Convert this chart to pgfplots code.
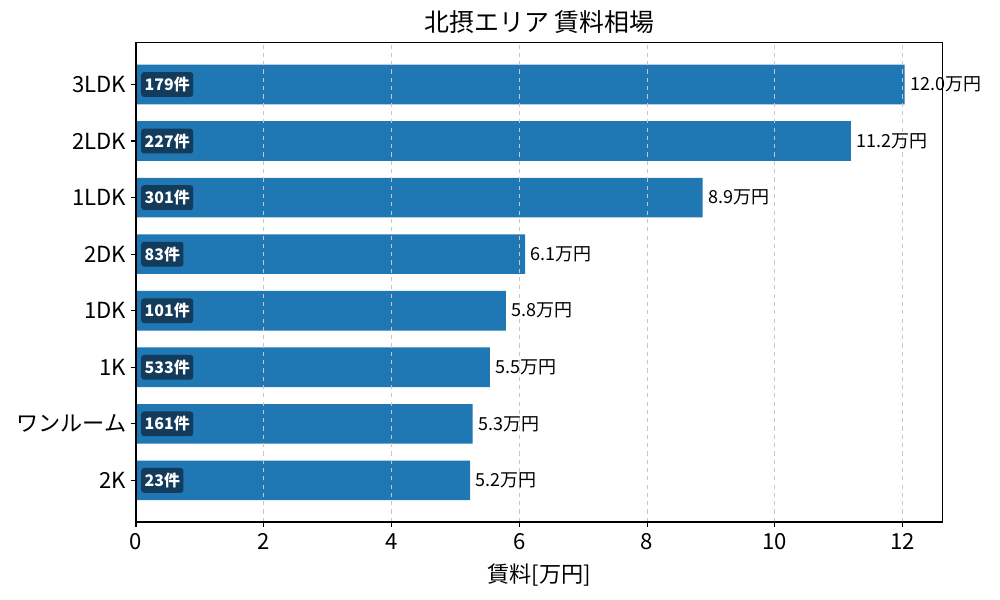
\documentclass[border=0pt]{standalone}
\usepackage{fontspec}
\setmainfont{Noto Sans CJK JP}
\usepackage{pgfplots}
\usepackage{pgfplotstable}
\pgfplotsset{compat=1.18}

\definecolor{barblue}{HTML}{1F77B4}
\definecolor{tagnavy}{HTML}{133B5B}

% y position, rent (10k yen), label, listings
\pgfplotstableread{
y val lab cnt
0 5.23 5.2 23
1 5.27 5.3 161
2 5.54 5.5 533
3 5.79 5.8 101
4 6.09 6.1 83
5 8.87 8.9 301
6 11.19 11.2 227
7 12.03 12.0 179
}\rent

\begin{document}
\begin{tikzpicture}
\useasboundingbox (-97.9bp,-56.2bp) rectangle (622.1bp,375.8bp);
\begin{axis}[
  scale only axis, width=581bp, height=344.9bp,
  xmin=0, xmax=12.63, ymin=-0.735, ymax=7.735,
  xtick={0,2,...,12}, ytick={0,...,7},
  yticklabels={2K,ワンルーム,1K,1DK,2DK,1LDK,2LDK,3LDK},
  tick align=outside, xtick pos=bottom, ytick pos=left,
  major tick length=3.5bp,
  tick style={black, line width=0.8bp},
  axis line style={line width=0.8bp},
  ticklabel style={font=\fontsize{16}{18}\selectfont},
  xticklabel style={yshift=-1.5bp},
  /pgf/number format/assume math mode=true,
  xmajorgrids, grid style={dashed, black!22, line width=0.8bp},
  axis on top,
  title={北摂エリア 賃料相場},
  title style={font=\fontsize{18}{20}\selectfont, yshift=-3bp},
  xlabel={賃料[万円]},
  xlabel style={font=\fontsize{16}{18}\selectfont, yshift=-3bp},
  clip=false,
]
\addplot[xbar, bar width=0.7, bar shift=0pt, fill=barblue, draw=none,
  point meta=explicit symbolic,
  nodes near coords={\pgfplotspointmeta 万円},
  every node near coord/.append style={anchor=west, inner sep=0pt,
    xshift=3.8bp, text=black, font=\fontsize{13}{14}\selectfont}]
  table[x=val, y=y, meta=lab] {\rent};
\addplot[draw=none, mark=none, forget plot,
  point meta=explicit symbolic,
  nodes near coords={\pgfplotspointmeta 件},
  every node near coord/.append style={anchor=west, xshift=3.6bp,
    fill=tagnavy, text=white, rounded corners=2bp,
    inner xsep=2.5bp, inner ysep=3.5bp,
    font=\bfseries\fontsize{11.5}{12}\selectfont}]
  table[x expr=0, y=y, meta=cnt] {\rent};
\end{axis}
\end{tikzpicture}
\end{document}
